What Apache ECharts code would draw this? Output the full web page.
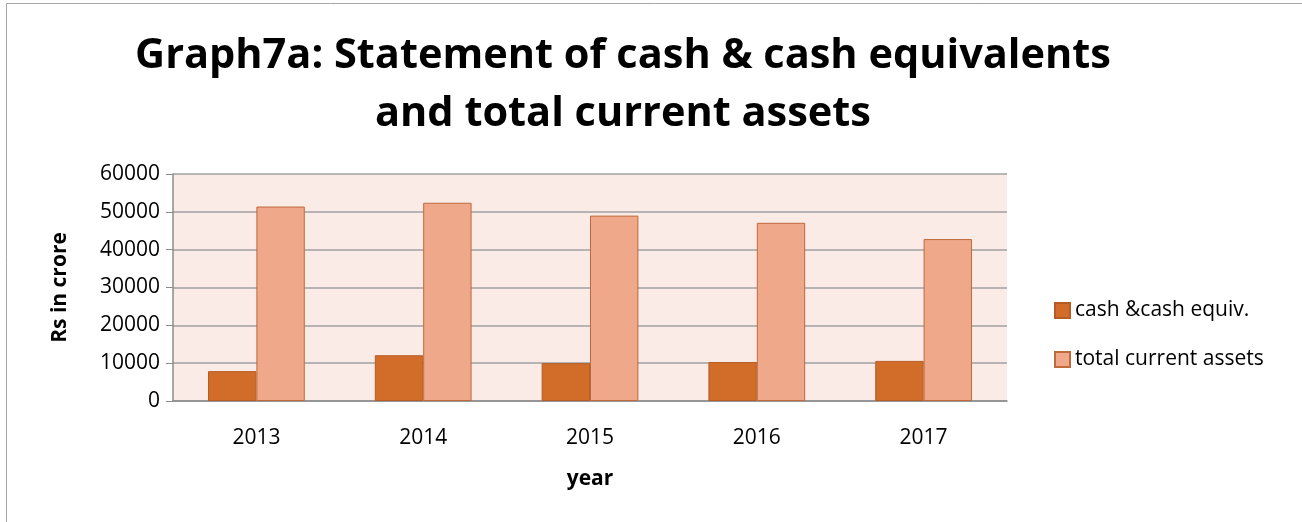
<!DOCTYPE html>
<html>
<head>
<meta charset="utf-8">
<script src="https://cdn.jsdelivr.net/npm/echarts@6/dist/echarts.min.js"></script>
<style>
  html, body { margin: 0; padding: 0; background: #fff; }
  #chart { width: 1302px; height: 522px; }
</style>
</head>
<body>
<div id="chart"></div>
<script>
// data
var years = ['2013', '2014', '2015', '2016', '2017'];
var cashEquiv = [7900, 12100, 10000, 10300, 10600];
var totalCurrentAssets = [51400, 52400, 49000, 47100, 42800];
var yTicks = [0, 10000, 20000, 30000, 40000, 50000, 60000];

var font = '"Open Sans", Lato, sans-serif';

var option = {
  backgroundColor: '#fff',
  animation: false,
  textStyle: { fontFamily: font },
  graphic: [
    {
      type: 'rect',
      shape: { x: 6.5, y: 3.5, width: 1400, height: 600 },
      style: { fill: 'none', stroke: '#a6a6a6', lineWidth: 1 },
      silent: true
    },
    {
      type: 'text',
      x: 623, y: 56,
      style: {
        text: 'Graph7a: Statement of cash & cash equivalents',
        font: 'bold 41.5px ' + font,
        fill: '#000',
        align: 'center',
        verticalAlign: 'middle'
      }
    },
    {
      type: 'text',
      x: 623, y: 114,
      style: {
        text: 'and total current assets',
        font: 'bold 41.5px ' + font,
        fill: '#000',
        align: 'center',
        verticalAlign: 'middle'
      }
    }
  ],
  legend: {
    orient: 'vertical',
    left: 1049,
    top: 295,
    itemGap: 28,
    itemWidth: 15,
    itemHeight: 15,
    icon: 'rect',
    textStyle: { fontSize: 21, color: '#000', fontFamily: font, lineHeight: 15 },
    data: ['cash &cash equiv.', 'total current assets']
  },
  grid: {
    left: 173,
    right: 295,
    top: 174,
    bottom: 121,
    show: true,
    backgroundColor: '#faebe6',
    borderWidth: 0
  },
  xAxis: {
    type: 'category',
    data: years,
    name: 'year',
    nameLocation: 'middle',
    nameGap: 68,
    nameTextStyle: { fontSize: 21, fontWeight: 'bold', color: '#000', fontFamily: font },
    axisLine: { lineStyle: { color: '#8c8c8c', width: 1.5 } },
    axisTick: { show: false },
    axisLabel: { fontSize: 21, color: '#000', margin: 27, fontFamily: font }
  },
  yAxis: {
    type: 'value',
    min: 0,
    max: yTicks[yTicks.length - 1],
    interval: yTicks[1] - yTicks[0],
    name: 'Rs in crore',
    nameLocation: 'middle',
    nameGap: 102,
    nameTextStyle: { fontSize: 21, fontWeight: 'bold', color: '#000', fontFamily: font },
    axisLine: { show: true, lineStyle: { color: '#8c8c8c', width: 1.5 } },
    axisTick: { show: true, length: 7, inside: false, lineStyle: { color: '#8c8c8c' } },
    axisLabel: {
      fontSize: 21, color: '#000', margin: 13, fontFamily: font,
      formatter: function (v) { return String(v); }
    },
    splitLine: { lineStyle: { color: '#a0a0a0', width: 1.5 } }
  },
  series: [
    {
      name: 'cash &cash equiv.',
      type: 'bar',
      data: cashEquiv,
      barGap: 0,
      barCategoryGap: '42%',
      itemStyle: { color: '#d26c29', borderColor: '#b65d26', borderWidth: 1 }
    },
    {
      name: 'total current assets',
      type: 'bar',
      data: totalCurrentAssets,
      barGap: 0,
      barCategoryGap: '42%',
      itemStyle: { color: '#f0a88a', borderColor: '#be6a3a', borderWidth: 1 }
    }
  ]
};

var myChart = echarts.init(document.getElementById('chart'));
myChart.setOption(option);
</script>
</body>
</html>
